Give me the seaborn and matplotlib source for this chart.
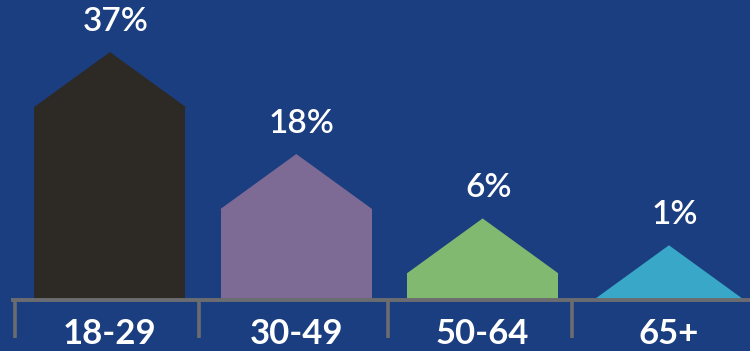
import matplotlib
matplotlib.use("Agg")
import matplotlib.pyplot as plt
import seaborn as sns
import pandas as pd

# Share of each age group
age_groups = ["18-29", "30-49", "50-64", "65+"]
shares = [37, 18, 6, 1]
value_labels = ["37%", "18%", "6%", "1%"]
bar_colors = ["#2d2925", "#7e6b95", "#80b96f", "#38a7c8"]

BG = "#1b3e80"
AXIS_GRAY = "#6b6c70"

sns.set_theme(style="white")
plt.rcParams["font.family"] = ["Lato", "DejaVu Sans"]

df = pd.DataFrame({"age": age_groups, "share": shares})

fig = plt.figure(figsize=(7.5, 3.51), dpi=100, facecolor=BG)
ax = fig.add_axes([0, 51 / 351, 1, 300 / 351])
ax.set_facecolor(BG)

sns.barplot(data=df, x="age", y="share", hue="age", palette=bar_colors,
            width=0.81, saturation=1, legend=False, linewidth=0, ax=ax)

# house-shaped roofs on top of each bar
roof = 10.2
for patch, color, label in zip(ax.patches, bar_colors, value_labels):
    x0 = patch.get_x()
    w = patch.get_width()
    top = patch.get_height()
    ax.fill([x0, x0 + w / 2, x0 + w, x0 + w, x0],
            [top, top + roof, top, top - 0.3, top - 0.3],
            color=color, linewidth=0, zorder=patch.get_zorder())
    ax.text(x0 + w / 2 + 0.03, top + roof + 5.6, label, ha="center",
            va="center", color="white", fontsize=24, fontweight="semibold")

ax.set_xlim(-0.59, 3.435)
ax.set_ylim(1, 56.9)

for side in ["top", "right", "left"]:
    ax.spines[side].set_visible(False)
ax.spines["bottom"].set_color(AXIS_GRAY)
ax.spines["bottom"].set_linewidth(2.8)
ax.spines["bottom"].set_bounds(-0.52, 3.6)

ax.set_yticks([])
ax.set_xlabel("")
ax.set_ylabel("")
ax.set_xticks(range(len(age_groups)))
ax.set_xticklabels(age_groups)
ax.set_xticks([-0.51, 0.48, 1.49, 2.48], minor=True)
ax.tick_params(axis="x", which="major", length=0, pad=13, labelsize=25,
               labelcolor="white")
ax.tick_params(axis="x", which="minor", direction="out", length=27,
               width=2.6, color=AXIS_GRAY, bottom=True)
for t in ax.get_xticklabels():
    t.set_fontweight("bold")

fig.savefig("out.png", dpi=100, facecolor=BG)
